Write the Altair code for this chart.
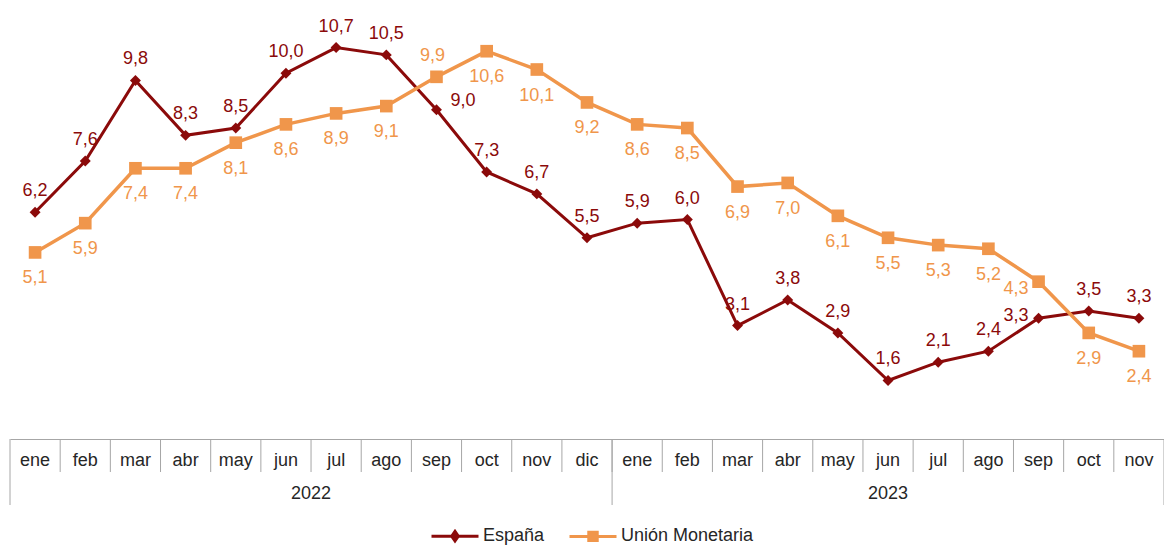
import altair as alt
import pandas as pd

# ---------------- data ----------------
months = ["ene", "feb", "mar", "abr", "may", "jun", "jul", "ago", "sep", "oct", "nov", "dic",
          "ene", "feb", "mar", "abr", "may", "jun", "jul", "ago", "sep", "oct", "nov"]
years = ["2022"] * 12 + ["2023"] * 11
espana = [6.2, 7.6, 9.8, 8.3, 8.5, 10.0, 10.7, 10.5, 9.0, 7.3, 6.7, 5.5,
          5.9, 6.0, 3.1, 3.8, 2.9, 1.6, 2.1, 2.4, 3.3, 3.5, 3.3]
union = [5.1, 5.9, 7.4, 7.4, 8.1, 8.6, 8.9, 9.1, 9.9, 10.6, 10.1, 9.2,
         8.6, 8.5, 6.9, 7.0, 6.1, 5.5, 5.3, 5.2, 4.3, 2.9, 2.4]
series_names = ["España", "Unión Monetaria"]

# ---------------- tables ----------------
n = len(months)
idx = list(range(n))
months_df = pd.DataFrame({"idx": idx, "month": months, "year": years})


def slope(vals, i):
    return vals[min(i + 1, n - 1)] - vals[max(i - 1, 0)]


# label placement derived from the data: where the orange series sits just above
# the red one, labels are moved sideways so they do not collide
esp_place, uni_place = [], []
for i in idx:
    crossed = union[i] > espana[i] and union[i] - espana[i] <= 1.05
    if crossed:
        esp_place.append("left" if slope(espana, i) > 0 else "right")
        uni_place.append("above" if slope(union, i) > 0 else "left")
    else:
        esp_place.append("default")
        uni_place.append("default")

long_df = pd.concat([
    pd.DataFrame({"idx": idx, "series": series_names[0], "value": espana, "place": esp_place}),
    pd.DataFrame({"idx": idx, "series": series_names[1], "value": union, "place": uni_place}),
])
year_bounds = []
for y in sorted(set(years)):
    ids = [i for i, yy in zip(idx, years) if yy == y]
    year_bounds += [min(ids) - 0.5, max(ids) + 0.5]
year_bounds_df = pd.DataFrame({"pos": sorted(set(year_bounds))})

# ---------------- style ----------------
FONT = "Liberation Sans"
RED = "#8B0A0A"
ORANGE = "#F0964B"
GRID = "#A6A6A6"
TEXT = "#262626"
colors = [RED, ORANGE]

label_styles = {
    series_names[0]: {
        "default": dict(align="center", dx=0, dy=-21),
        "left": dict(align="right", dx=-10, dy=-2),
        "right": dict(align="left", dx=14, dy=-9),
    },
    series_names[1]: {
        "default": dict(align="center", dx=0, dy=26),
        "above": dict(align="center", dx=-4, dy=-21),
        "left": dict(align="right", dx=-10, dy=7),
    },
}

xscale = alt.Scale(domain=[-0.5, n - 0.5], nice=False, zero=False)
yscale = alt.Scale(domain=[0, 12], nice=False, zero=True)
X = alt.X("idx:Q", scale=xscale,
          axis=alt.Axis(labels=False, ticks=False, grid=False, title=None,
                        domainColor=GRID, domainWidth=1))
Y = alt.Y("value:Q", scale=yscale, axis=None)

label_expr = "replace(format(datum.value, '.1f'), '.', ',')"

specs = [
    (series_names[0], RED, "diamond", 120, 3),
    (series_names[1], ORANGE, "square", 160, 3.5),
]
line_layers, point_layers, text_layers = [], [], []
for name, col, shp, sz, sw in specs:
    base = alt.Chart(long_df).transform_filter(alt.datum.series == name)
    line_layers.append(base.mark_line(color=col, strokeWidth=sw).encode(x=X, y=Y))
    point_layers.append(base.mark_point(shape=shp, filled=True, color=col, size=sz,
                                        opacity=1).encode(x=X, y=Y))
    places = set(long_df.loc[long_df["series"] == name, "place"])
    for place, st in label_styles[name].items():
        if place not in places:
            continue
        text_layers.append(
            base.transform_filter(alt.datum.place == place)
            .transform_calculate(lab=label_expr)
            .mark_text(color=col, font=FONT, fontSize=18, baseline="middle", **st)
            .encode(x=X, y=Y, text="lab:N"))

# ---------------- axis table ----------------
month_rules = alt.Chart(months_df).transform_filter(alt.datum.idx > 0).transform_calculate(
    pos="datum.idx - 0.5").mark_rule(color=GRID, strokeWidth=1).encode(
    x=alt.X("pos:Q", scale=xscale), y=alt.value(439), y2=alt.value(472))
year_rules = alt.Chart(year_bounds_df).mark_rule(color=GRID, strokeWidth=1).encode(
    x=alt.X("pos:Q", scale=xscale), y=alt.value(439), y2=alt.value(505))
month_text = alt.Chart(months_df).mark_text(font=FONT, fontSize=18, color=TEXT,
                                            baseline="middle").encode(
    x=alt.X("idx:Q", scale=xscale), y=alt.value(461), text="month:N")
year_text = alt.Chart(months_df).transform_aggregate(
    center="mean(idx)", groupby=["year"]).mark_text(
    font=FONT, fontSize=18, color=TEXT, baseline="middle").encode(
    x=alt.X("center:Q", scale=xscale), y=alt.value(494), text="year:N")

# ---------------- legend ----------------
diamond_path = "M-1,0H1M0,-0.2L0.14,0L0,0.2L-0.14,0Z"
square_path = "M-1,0H1M-0.18,-0.18H0.18V0.18H-0.18Z"
leg = alt.Legend(title=None, orient="none", legendX=420, legendY=511, direction="horizontal",
                 symbolSize=2209, symbolStrokeWidth=3, symbolOpacity=1,
                 labelFont=FONT, labelFontSize=18, labelColor=TEXT, labelOffset=3,
                 columnPadding=18, padding=0)
legend_layer = alt.Chart(long_df).transform_filter("false").mark_point(
    filled=True, opacity=1, strokeWidth=3).encode(
    x=X, y=Y,
    shape=alt.Shape("series:N", scale=alt.Scale(domain=series_names,
                                                range=[diamond_path, square_path]), legend=leg),
    fill=alt.Fill("series:N", scale=alt.Scale(domain=series_names, range=colors), legend=leg),
    stroke=alt.Stroke("series:N", scale=alt.Scale(domain=series_names, range=colors), legend=leg),
)

chart = alt.layer(
    month_rules, year_rules, month_text, year_text,
    line_layers[0], point_layers[0], line_layers[1], point_layers[1],
    *text_layers, legend_layer,
).properties(
    width=1154, height=439,
    padding={"left": 10, "top": 0, "right": 0, "bottom": 106},
    autosize=alt.AutoSizeParams(type="none"),
    background="white",
).configure_view(stroke=None)

chart.save("out.html", embed_options={"renderer": "svg", "actions": False})
